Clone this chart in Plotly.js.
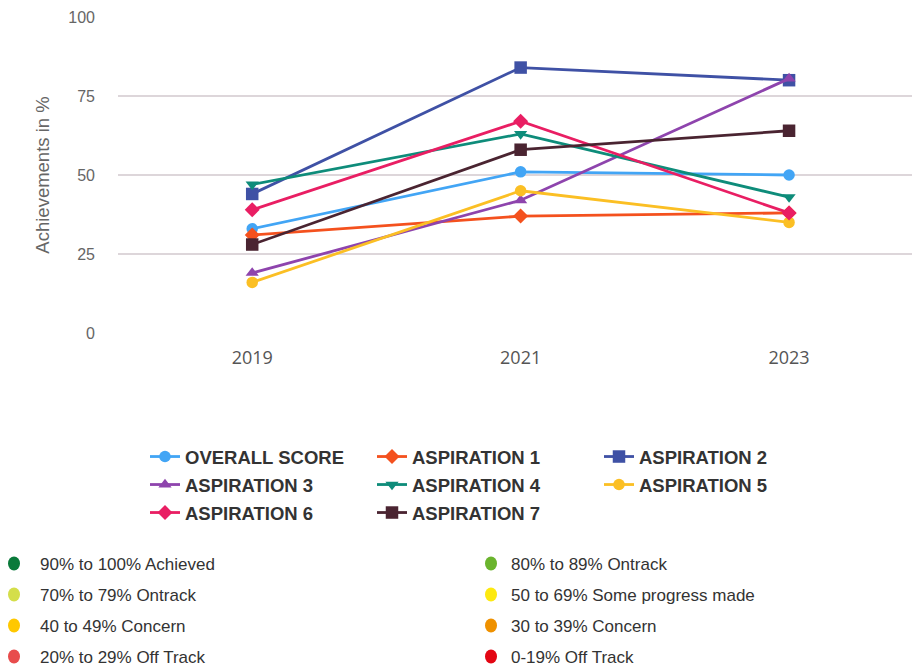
<!DOCTYPE html>
<html><head><meta charset="utf-8">
<script src="https://cdn.plot.ly/plotly-3.0.1.min.js"></script>
<style>html,body{margin:0;padding:0;background:#fff;}#chart{width:912px;height:666px;}</style>
</head><body><div id="chart"></div>
<script>
const years = ['2019', '2021', '2023'];
const seriesNames = ['OVERALL SCORE','ASPIRATION 1','ASPIRATION 2','ASPIRATION 3','ASPIRATION 4','ASPIRATION 5','ASPIRATION 6','ASPIRATION 7'];
const overall = [33, 51, 50];
const asp1 = [31, 37, 38];
const asp2 = [44, 84, 80];
const asp3 = [19, 42, 80.5];
const asp4 = [47, 63, 43];
const asp5 = [16, 45, 35];
const asp6 = [39, 67, 38];
const asp7 = [28, 58, 64];
const seriesValues = [overall, asp1, asp2, asp3, asp4, asp5, asp6, asp7];
const seriesColors = ['#42a5f5','#f4511e','#3f51a5','#8e44ad','#0e8c7a','#fbbf24','#e91e63','#4a2431'];
const seriesSymbols = ['circle','diamond','square','triangle-up','triangle-down','circle','diamond','square'];

const bandLabels = ['90% to 100% Achieved','80% to 89% Ontrack','70% to 79% Ontrack','50 to 69% Some progress made','40 to 49% Concern','30 to 39% Concern','20% to 29% Off Track','0-19% Off Track'];
const bandColors = ['#0a7a3a','#6ab42d','#d4de4a','#fde910','#ffc800','#ef9100','#e84c4c','#e30613'];

const legendIds = ['legend','legend','legend','legend2','legend2','legend2','legend3','legend3'];

const traces = seriesNames.map((n,i)=>({
  type:'scatter', mode:'lines+markers', name:n, x:years, y:seriesValues[i],
  legend:legendIds[i],
  line:{color:seriesColors[i], width:2.8},
  marker:{color:seriesColors[i], symbol:seriesSymbols[i], size:seriesSymbols[i]==='square'?12.5:11.5},
  hoverinfo:'x+y+name'
}));

const plotTop = 17, plotBottom = 333, H = plotBottom - plotTop;
const py = p => (plotBottom - p) / H;
const plotLeft = 118, W = 912 - plotLeft;
const px = p => (p - plotLeft) / W;

const annotations = [], shapes = [];
bandLabels.forEach((lab,i)=>{
  const col = i % 2, row = Math.floor(i/2);
  const cx = col === 0 ? 14 : 491;
  const tx = col === 0 ? 38 : 509;
  const cy = 563.5 + row * 31;
  shapes.push({type:'circle', xref:'paper', yref:'paper', xsizemode:'pixel', ysizemode:'pixel',
    xanchor:px(cx), yanchor:py(cy), x0:-6, x1:6, y0:-7, y1:7,
    fillcolor:bandColors[i], line:{width:0}});
  annotations.push({xref:'paper', yref:'paper', x:px(tx), y:py(cy+0.5), xanchor:'left', yanchor:'middle',
    text:lab, showarrow:false, font:{family:'Liberation Sans, Arial, sans-serif', size:17, color:'#333'}});
});

const legFont = {family:'Liberation Sans, Arial, sans-serif', size:18.5, color:'#333', weight:'bold'};
const mkLegend = y => ({orientation:'h', x:px(145), y:py(y), xanchor:'left', yanchor:'middle',
    entrywidth:182, entrywidthmode:'pixels', traceorder:'normal', font:legFont,
    bgcolor:'rgba(0,0,0,0)', itemclick:false, itemdoubleclick:false});

const layout = {
  width:912, height:666,
  margin:{l:plotLeft, r:0, t:plotTop, b:666-plotBottom},
  paper_bgcolor:'#fff', plot_bgcolor:'#fff',
  showlegend:true,
  legend:mkLegend(457), legend2:mkLegend(485), legend3:mkLegend(513),
  xaxis:{type:'category', range:[-0.5, 2.458], showgrid:false, zeroline:false, showline:false,
    ticks:'', ticklabelstandoff:12,
    tickfont:{family:'Open Sans, sans-serif', size:18, color:'#555'}},
  yaxis:{range:[0,100], tickvals:[0,25,50,75,100], showgrid:true, gridcolor:'#ddd6da', gridwidth:1.5,
    zeroline:false, showline:false, ticks:'', ticklabelstandoff:22,
    tickfont:{family:'Liberation Sans, Arial, sans-serif', size:16, color:'#666'},
    title:{text:'Achievements in %', standoff:13, font:{family:'Liberation Sans, Arial, sans-serif', size:18.5, color:'#666'}}},
  annotations:annotations, shapes:shapes
};
Plotly.newPlot('chart', traces, layout, {displayModeBar:false, responsive:false});
</script></body></html>
